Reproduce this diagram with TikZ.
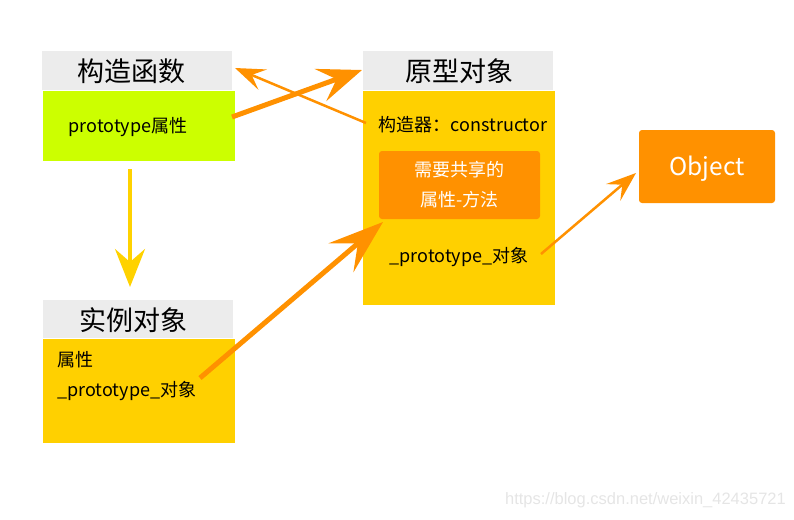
\documentclass[tikz,border=0pt]{standalone}
\usepackage{fontspec}
\setmainfont{Noto Sans CJK SC}
\newfontfamily\wmfont{Liberation Sans}
\usetikzlibrary{arrows.meta}
\definecolor{hdrgray}{HTML}{ECECEC}
\definecolor{limeg}{HTML}{CCFF00}
\definecolor{boxyel}{HTML}{FFD000}
\definecolor{orng}{HTML}{FF9100}
\definecolor{arryel}{HTML}{FFD200}
\begin{document}
\begin{tikzpicture}[x=1pt,y=-1pt,
  hdr/.style={fill=hdrgray,minimum width=190pt,minimum height=39pt,inner sep=0pt},
  hdrtxt/.style={inner sep=0pt,font=\fontsize{27}{29}\selectfont},
  body/.style={inner sep=0pt,minimum width=192pt},
  txt/.style={inner sep=0pt,font=\fontsize{18}{20}\selectfont},
  obox/.style={fill=orng,rounded corners=3pt,inner sep=0pt,text=white},
  thick arr/.style={draw=orng,line width=5pt,-{Stealth[length=44pt,width=34pt,inset=17pt]}},
  thin arr/.style={draw=orng,line width=2.5pt,-{Stealth[length=30pt,width=22pt,inset=12pt]}}]
\useasboundingbox (0,0) rectangle (794,519);
% box 1
\node[hdr] (h1) at (137,70.5) {};
\node[hdrtxt] (h1t) at (131,71) {构造函数};
\node[body,fill=limeg,minimum height=70pt] (b1) at (139,126) {};
\node[txt] (t1) at (128,127) {prototype属性};
% box 2
\node[hdr,minimum height=38pt] (h2) at (138,319) {};
\node[hdrtxt] (h2t) at (133,320) {实例对象};
\node[body,fill=boxyel,minimum height=104pt] (b2) at (139,391) {};
\node[txt,anchor=west] (t2a) at (57,360) {属性};
\node[txt,anchor=west] (t2b) at (57,391) {\_prototype\_对象};
% box 3
\node[hdr] (h3) at (458,70.5) {};
\node[hdrtxt] (h3t) at (459,71) {原型对象};
\node[body,fill=boxyel,minimum height=214pt] (b3) at (459,198) {};
\node[txt] (t3a) at (463,125) {构造器：constructor};
\node[obox,minimum width=161pt,minimum height=68pt,align=center,font=\fontsize{18}{30}\selectfont] (sh) at (459.5,185) {需要共享的\\属性-方法};
\node[txt] (t3b) at (459,257) {\_prototype\_对象};
% Object
\node[obox,minimum width=136pt,minimum height=73pt] (obj) at (707,166.5) {};
\node[inner sep=0pt,text=white,font=\fontsize{24.5}{26}\selectfont] (objt) at (707,169) {Object};
% connectors
\coordinate (a1s) at (232,117);
\coordinate (a1e) at (362,70);
\coordinate (a2s) at (366,123);
\coordinate (a2e) at (235,68);
\coordinate (a3s) at (200,378);
\coordinate (a3e) at (383,222);
\coordinate (a4s) at (541,254);
\coordinate (a4e) at (636,173);
\coordinate (a5s) at (130,169);
\coordinate (a5e) at (130,287);
\draw[draw=arryel,line width=4pt,-{Stealth[length=38pt,width=30pt,inset=13pt]}] (a5s) -- (a5e);
\draw[thin arr] (a2s) -- (a2e);
\draw[thick arr] (a1s) -- (a1e);
\draw[thick arr,-{Stealth[length=55pt,width=38pt,inset=22pt]}] (a3s) -- (a3e);
\draw[thin arr] (a4s) -- (a4e);
% watermark
\node[inner sep=0pt,anchor=east,text=black!10,font=\fontsize{16.5}{18}\selectfont\wmfont] (wm) at (786,500) {https://blog.csdn.net/weixin\_42435721};
\end{tikzpicture}
\end{document}
